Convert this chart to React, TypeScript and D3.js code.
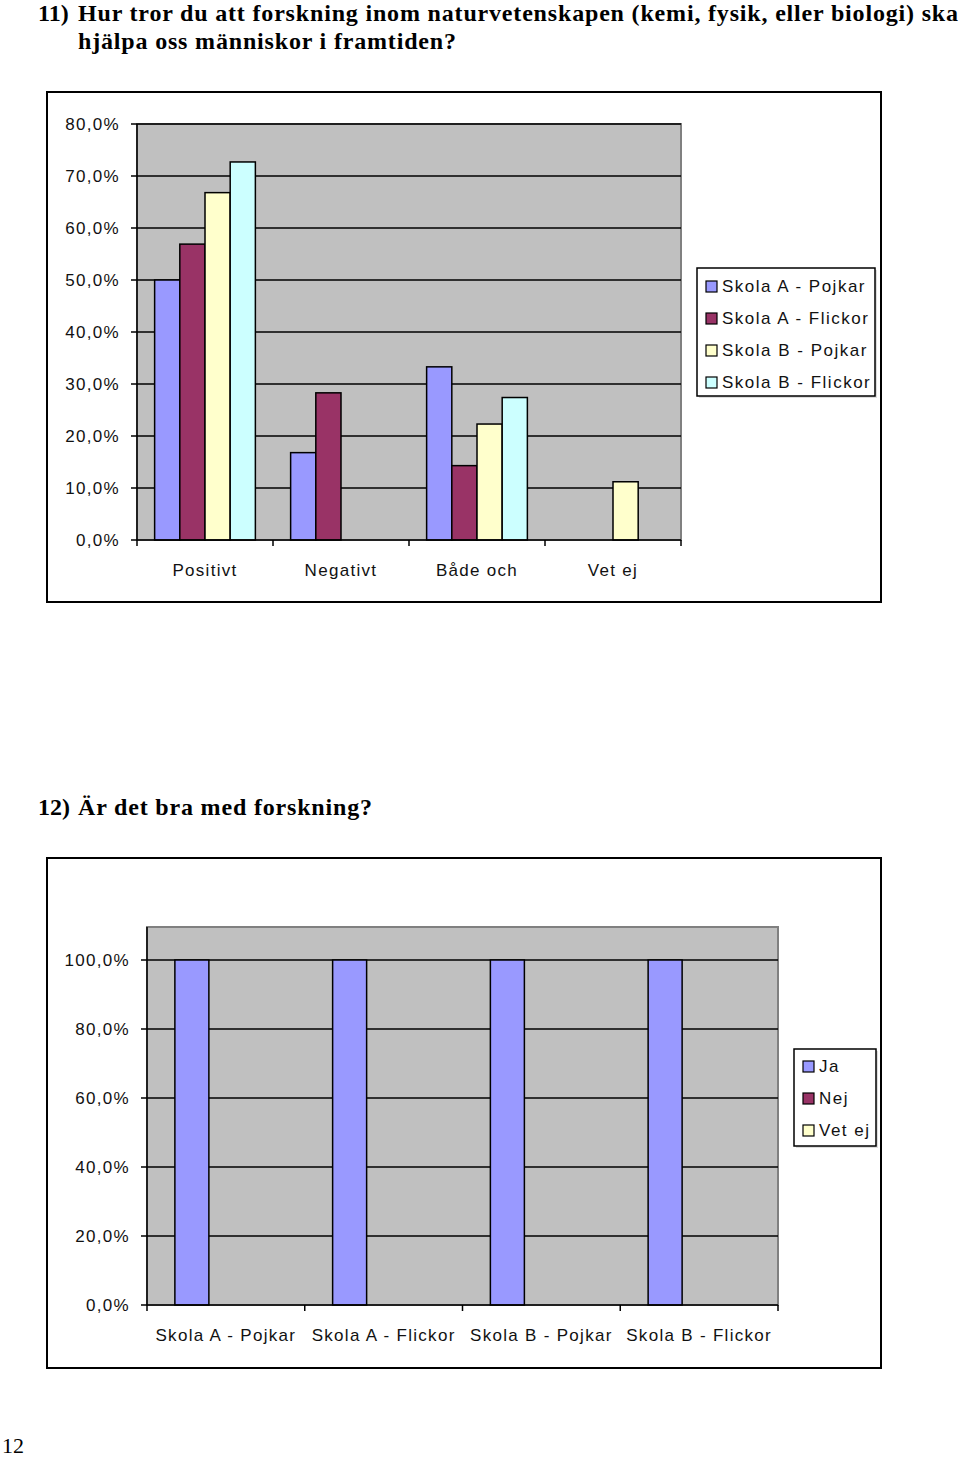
import React from "react";
import * as d3 from "d3";

// ---------- Data ----------
const q1Categories = ["Positivt", "Negativt", "Både och", "Vet ej"];
const q1Series = ["Skola A - Pojkar", "Skola A - Flickor", "Skola B - Pojkar", "Skola B - Flickor"];
const q1SkolaAPojkar = [0.5, 0.168, 0.333, 0];
const q1SkolaAFlickor = [0.569, 0.283, 0.143, 0];
const q1SkolaBPojkar = [0.668, 0, 0.223, 0.112];
const q1SkolaBFlickor = [0.727, 0, 0.274, 0];
const q1Ticks = [0, 0.1, 0.2, 0.3, 0.4, 0.5, 0.6, 0.7, 0.8];

const q2Categories = ["Skola A - Pojkar", "Skola A - Flickor", "Skola B - Pojkar", "Skola B - Flickor"];
const q2Series = ["Ja", "Nej", "Vet ej"];
const q2Ja = [1, 1, 1, 1];
const q2Nej = [0, 0, 0, 0];
const q2VetEj = [0, 0, 0, 0];
const q2Ticks = [0, 0.2, 0.4, 0.6, 0.8, 1.0];

const q1Colors = ["#9999ff", "#993366", "#ffffcc", "#ccffff"];
const q2Colors = ["#9999ff", "#993366", "#ffffcc"];

const fmt = (v: number) => (v * 100).toFixed(1).replace(".", ",") + "%";

const SANS = "'Liberation Sans', Arial, sans-serif";
const SERIF = "'Liberation Serif', 'Times New Roman', serif";

type ChartProps = {
  frame: { x: number; y: number; w: number; h: number };
  plot: { x0: number; x1: number; top: number; bottom: number };
  yDomainMax: number;
  yAtMax: number;
  ticks: number[];
  categories: string[];
  series: string[];
  values: number[][];
  colors: string[];
  outerPad: number;
  legend: { x: number; y: number; w: number; h: number; rowGap: number; firstRow: number };
  labelY: number;
  yLabelRight: number;
};

function BarChart(p: ChartProps) {
  const y = d3.scaleLinear().domain([0, p.yDomainMax]).range([p.plot.bottom, p.yAtMax]);
  const x = d3.scaleBand<string>().domain(p.categories).range([p.plot.x0, p.plot.x1]).padding(0);
  const xs = d3
    .scaleBand<string>()
    .domain(p.series)
    .range([0, x.bandwidth()])
    .paddingInner(0)
    .paddingOuter(p.outerPad);
  const textStyle: React.CSSProperties = { fontFamily: SANS, fontSize: 17, letterSpacing: 1.3 };
  const legendStyle: React.CSSProperties = { fontFamily: SANS, fontSize: 17, letterSpacing: 1.5 };
  const boundaries = [...p.categories.map((c) => x(c)!), p.plot.x1];
  return (
    <g>
      <rect x={p.frame.x} y={p.frame.y} width={p.frame.w} height={p.frame.h} fill="#fff" stroke="#000" strokeWidth={2} />
      <rect
        x={p.plot.x0}
        y={p.plot.top}
        width={p.plot.x1 - p.plot.x0}
        height={p.plot.bottom - p.plot.top}
        fill="#c0c0c0"
        stroke="#808080"
        strokeWidth={2}
      />
      {p.ticks.map((t) => (
        <g key={t}>
          {t > 0 && (
            <line x1={p.plot.x0} x2={p.plot.x1} y1={y(t)} y2={y(t)} stroke="#000" strokeWidth={1.5} />
          )}
          <line x1={p.plot.x0 - 6} x2={p.plot.x0} y1={y(t)} y2={y(t)} stroke="#000" strokeWidth={1.5} />
          <text x={p.yLabelRight} y={y(t)} dy="0.35em" textAnchor="end" fill="#111" style={textStyle}>
            {fmt(t)}
          </text>
        </g>
      ))}
      {p.categories.map((c, ci) =>
        p.series.map((s, si) => {
          const v = p.values[si][ci];
          if (!v) return null;
          return (
            <rect
              key={c + s}
              x={x(c)! + xs(s)!}
              y={y(v)}
              width={xs.bandwidth()}
              height={y(0) - y(v)}
              fill={p.colors[si]}
              stroke="#000"
              strokeWidth={1.5}
            />
          );
        })
      )}
      <line x1={p.plot.x0} x2={p.plot.x0} y1={p.plot.top} y2={p.plot.bottom} stroke="#000" strokeWidth={1.5} />
      <line x1={p.plot.x0} x2={p.plot.x1} y1={p.plot.bottom} y2={p.plot.bottom} stroke="#000" strokeWidth={1.5} />
      {boundaries.map((b, i) => (
        <line key={i} x1={b} x2={b} y1={p.plot.bottom} y2={p.plot.bottom + 6} stroke="#000" strokeWidth={1.5} />
      ))}
      {p.categories.map((c) => (
        <text key={c} x={x(c)! + x.bandwidth() / 2} y={p.labelY} dy="0.35em" textAnchor="middle" fill="#111" style={textStyle}>
          {c}
        </text>
      ))}
      <rect x={p.legend.x + 2} y={p.legend.y + 2} width={p.legend.w} height={p.legend.h} fill="#ddd" />
      <rect x={p.legend.x} y={p.legend.y} width={p.legend.w} height={p.legend.h} fill="#fff" stroke="#000" strokeWidth={1.5} />
      {p.series.map((s, si) => {
        const cy = p.legend.y + p.legend.firstRow + si * p.legend.rowGap;
        return (
          <g key={s}>
            <rect x={p.legend.x + 9} y={cy - 5} width={11} height={11} fill={p.colors[si]} stroke="#000" strokeWidth={1.2} />
            <text x={p.legend.x + 25} y={cy} dy="0.35em" fill="#111" style={legendStyle}>
              {s}
            </text>
          </g>
        );
      })}
    </g>
  );
}

export default function App() {
  const titleStyle: React.CSSProperties = { fontFamily: SERIF, fontSize: 24, fontWeight: "bold" };
  return (
    <svg width={960} height={1457} style={{ position: "absolute", left: 0, top: 0 }}>
      <rect width={960} height={1457} fill="#fff" />
      <text x={38} y={21} style={titleStyle}>11)</text>
      <text x={78} y={21} style={titleStyle} textLength={880} lengthAdjust="spacing">
        Hur tror du att forskning inom naturvetenskapen (kemi, fysik, eller biologi) ska
      </text>
      <text x={78} y={49} style={titleStyle} textLength={378} lengthAdjust="spacing">
        hjälpa oss människor i framtiden?
      </text>

      <BarChart
        frame={{ x: 47, y: 92, w: 834, h: 510 }}
        plot={{ x0: 137, x1: 681, top: 124, bottom: 540 }}
        yDomainMax={0.8}
        yAtMax={124}
        ticks={q1Ticks}
        categories={q1Categories}
        series={q1Series}
        values={[q1SkolaAPojkar, q1SkolaAFlickor, q1SkolaBPojkar, q1SkolaBFlickor]}
        colors={q1Colors}
        outerPad={0.7}
        legend={{ x: 697, y: 268, w: 178, h: 128, rowGap: 32, firstRow: 18 }}
        labelY={570}
        yLabelRight={120}
      />

      <text x={38} y={815} style={titleStyle}>12)</text>
      <text x={78} y={815} style={titleStyle} textLength={294} lengthAdjust="spacing">
        Är det bra med forskning?
      </text>

      <BarChart
        frame={{ x: 47, y: 858, w: 834, h: 510 }}
        plot={{ x0: 147, x1: 778, top: 927, bottom: 1305 }}
        yDomainMax={1}
        yAtMax={960}
        ticks={q2Ticks}
        categories={q2Categories}
        series={q2Series}
        values={[q2Ja, q2Nej, q2VetEj]}
        colors={q2Colors}
        outerPad={0.82}
        legend={{ x: 794, y: 1049, w: 82, h: 97, rowGap: 32, firstRow: 17 }}
        labelY={1335}
        yLabelRight={130}
      />

      <text x={2} y={1453} style={{ fontFamily: SERIF, fontSize: 22 }}>12</text>
    </svg>
  );
}
